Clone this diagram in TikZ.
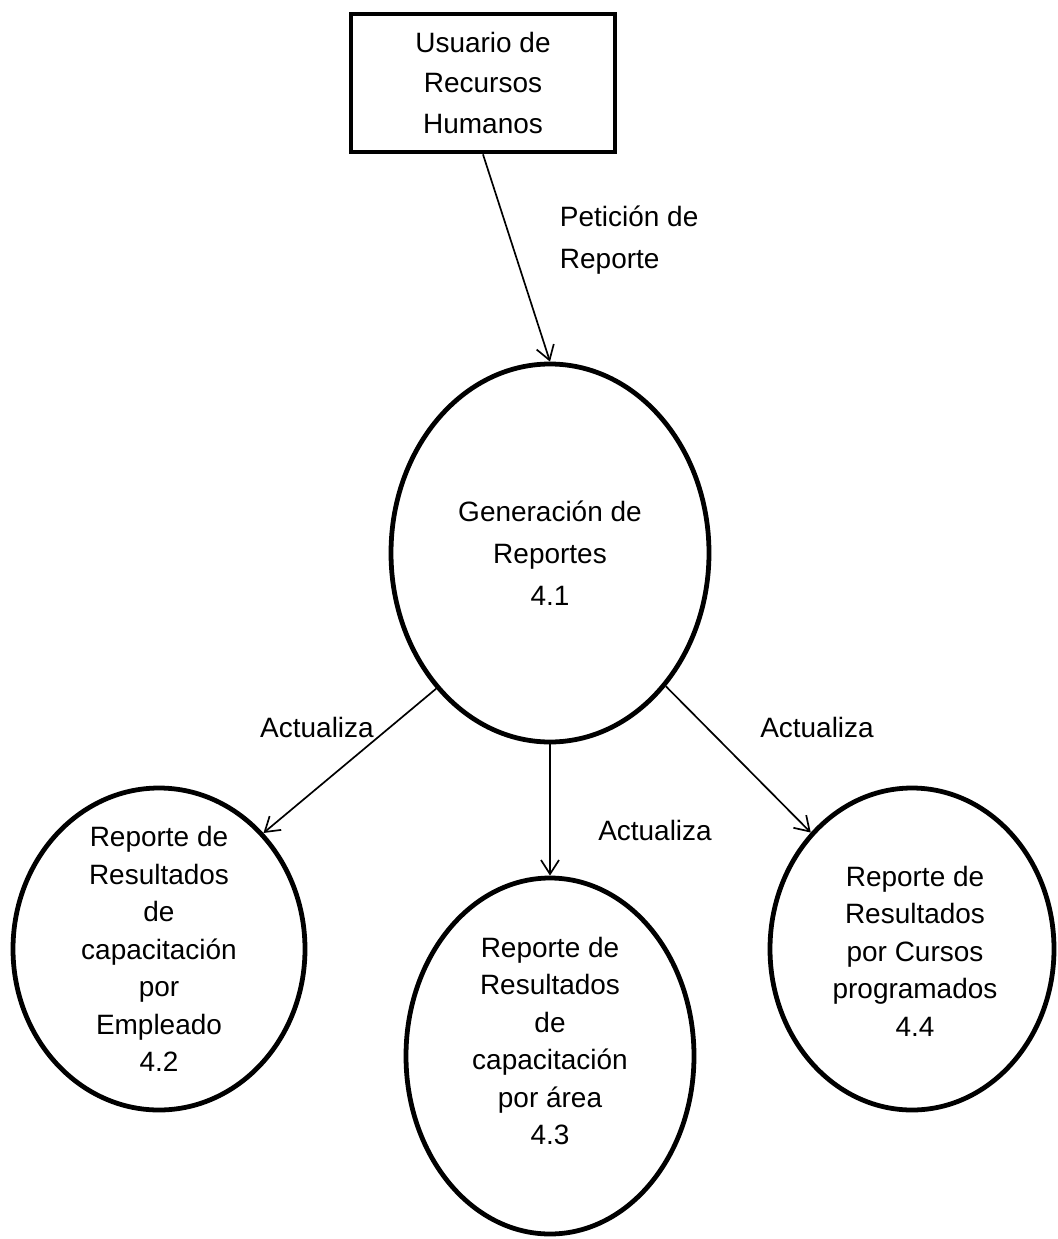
\documentclass[tikz,border=0pt]{standalone}
\usepackage{tikz,pgf}
\usepackage{fontspec}
\setmainfont{Liberation Sans}
\usetikzlibrary{shapes.geometric,arrows.meta}

\begin{document}
\begin{tikzpicture}[
    proceso/.style={draw=black,ellipse,line width=3.4pt,inner sep=0pt},
    entidad/.style={draw=black,rectangle,line width=3.4pt,minimum width=6.6cm,minimum height=3.45cm},
    texto/.style={align=center,font=\fontsize{19.9}{26.7}\selectfont},
    flujo/.style={draw=black,line width=1.2pt,-{Straight Barb[length=0.35cm,width=0.45cm]}}
]
    \useasboundingbox (0,0) rectangle (26.45,-30.975);

    \node[entidad] (usuario) at (12.075,-2.075) {};
    \node[proceso,minimum width=7.95cm,minimum height=9.45cm] (gen) at (13.75,-13.825) {};
    \node[proceso,minimum width=7.3cm,minimum height=8.05cm] (rep42) at (3.975,-23.725) {};
    \node[proceso,minimum width=7.2cm,minimum height=8.9cm] (rep43) at (13.75,-26.4) {};
    \node[proceso,minimum width=7.1cm,minimum height=8.05cm] (rep44) at (22.8,-23.725) {};

    \node[texto,font=\fontsize{19.9}{28.5}\selectfont] (tusuario) at (usuario) {Usuario de\\Recursos\\Humanos};
    \node[texto,font=\fontsize{19.9}{30}\selectfont] (tgen) at (gen) {Generación de\\Reportes\\4.1};
    \node[texto] (t42) at (rep42) {Reporte de\\Resultados\\de\\capacitación\\por\\Empleado\\4.2};
    \node[texto] (t43) at (13.75,-26.025) {Reporte de\\Resultados\\de\\capacitación\\por área\\4.3};
    \node[texto] (t44) at (22.875,-23.775) {Reporte de\\Resultados\\por Cursos\\programados\\4.4};

    \draw[flujo] (usuario.south) -- (gen.north);
    \draw[flujo] (gen.230) -- (rep42.48);
    \draw[flujo] (gen.south) -- (rep43.north);
    \draw[flujo] (gen.311) -- (rep44.131);

    \node[texto,align=left,anchor=west,font=\fontsize{19.9}{30}\selectfont] (lpeticion) at (13.875,-6.0) {Petición de\\Reporte};
    \node[texto] (lact42) at (7.925,-18.175) {Actualiza};
    \node[texto] (lact43) at (16.375,-20.75) {Actualiza};
    \node[texto] (lact44) at (20.425,-18.175) {Actualiza};
\end{tikzpicture}
\end{document}
